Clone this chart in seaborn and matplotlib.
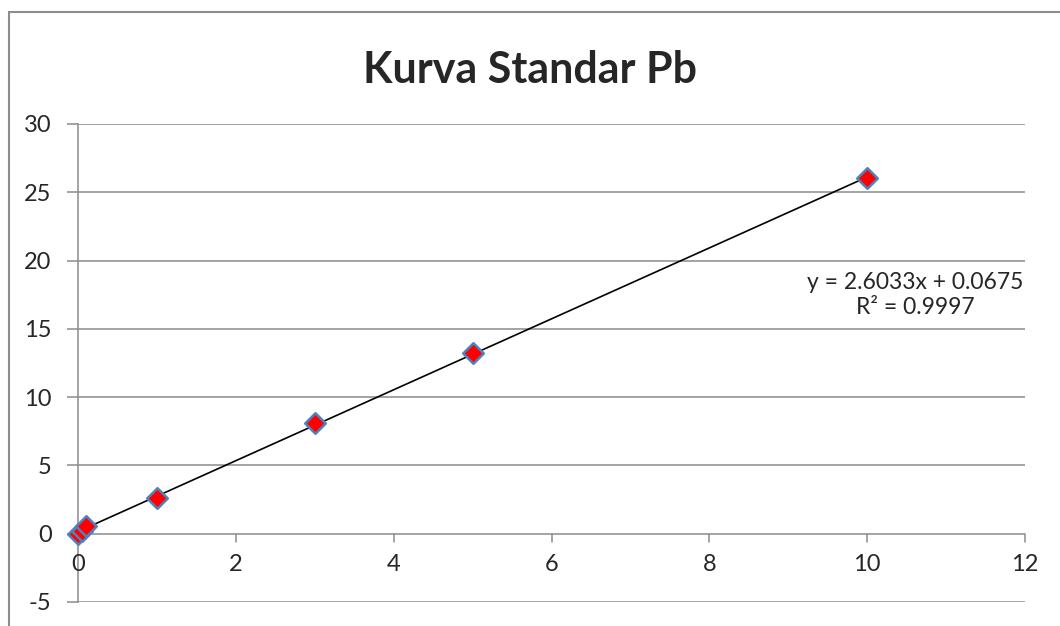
import matplotlib.pyplot as plt
import matplotlib.patches as patches
import numpy as np
import pandas as pd
import seaborn as sns

sns.set_style("white")
plt.rcParams['font.family'] = ['Lato', 'DejaVu Sans']
plt.rcParams['axes.unicode_minus'] = False

# data
konsentrasi = [0, 0.05, 0.1, 1, 3, 5, 10]
absorbansi = [0, 0.2, 0.6, 2.65, 8.1, 13.2, 26.05]
judul = "Kurva Standar Pb"
persamaan = "y = 2.6033x + 0.0675\nR² = 0.9997"
xticks = [0, 2, 4, 6, 8, 10, 12]
yticks = [-5, 0, 5, 10, 15, 20, 25, 30]

df = pd.DataFrame({'x': konsentrasi, 'y': absorbansi})

fig = plt.figure(figsize=(10.6, 6.26), dpi=100)
ax = fig.add_axes([78/1060, 1-602/626, (1025-78)/1060, (602-124)/626])

# outer chart frame (clipped at right/bottom like the screenshot)
fig.patches.append(patches.Rectangle((9/1060, -0.2), 2, 1.2 - 12/626,
                                     transform=fig.transFigure, fill=False,
                                     edgecolor='#8c8c8c', lw=1.5))

# linear trendline
b, a = np.polyfit(df['x'], df['y'], 1)
xl = np.array([df['x'].min(), df['x'].max()])
ax.plot(xl, b*xl + a, color='black', lw=1.2, zorder=3)

sc = sns.scatterplot(data=df, x='x', y='y', marker='D', s=110, color='#ff0000',
                     edgecolor='#4f81bd', linewidth=1.8, ax=ax, zorder=4)
for c in ax.collections:
    c.set_clip_on(False)

ax.set_xlim(0, 12)
ax.set_ylim(-5, 30)
ax.set_xticks(xticks)
ax.set_yticks(yticks)
ax.set_xlabel('')
ax.set_ylabel('')

for y in yticks:
    ax.axhline(y, color='#8c8c8c', lw=1.1, zorder=1)

for s in ['top', 'right', 'bottom']:
    ax.spines[s].set_visible(False)
ax.spines['left'].set_color('#8c8c8c')
ax.spines['left'].set_linewidth(1.1)

# x axis crosses at y = 0 with ticks hanging below
ax.tick_params(axis='y', which='major', length=8, color='#8c8c8c', width=1.1,
               labelsize=17, pad=11, left=True)
ax.tick_params(axis='x', length=0, labelsize=17)
ax.set_xticklabels([])
for x in xticks:
    ax.plot([x, x], [0, -0.6], color='#8c8c8c', lw=1.1, zorder=1, clip_on=False)
    ax.text(x, -1.5, str(x), ha='center', va='top', fontsize=17)

ax.text(0.884, 0.642, persamaan, transform=ax.transAxes, ha='center',
        va='center', fontsize=16.5, linespacing=1.2)

fig.text(0.5, 1-70/626, judul, ha='center', va='center', fontsize=31,
         fontweight='bold')

fig.savefig('out.png', dpi=100)
